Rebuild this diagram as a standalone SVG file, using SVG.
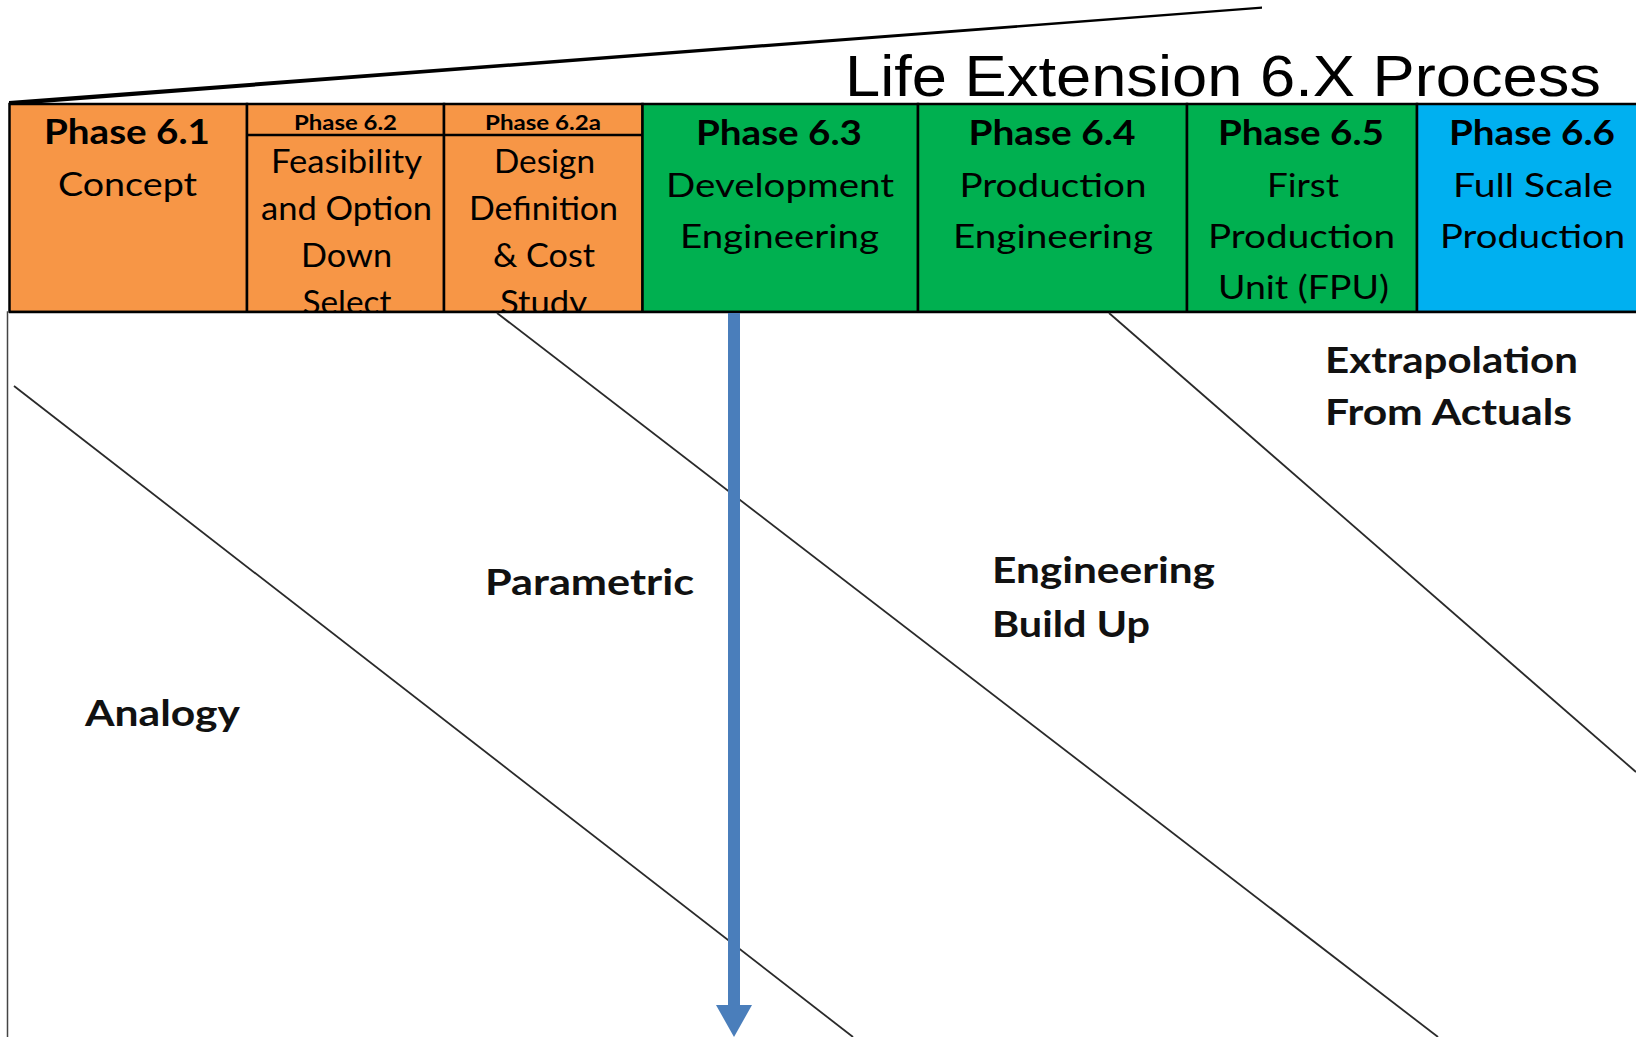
<svg xmlns="http://www.w3.org/2000/svg" width="1636" height="1037" viewBox="0 0 1636 1037">
<style>
.box{stroke:#000;stroke-width:2.5}
.or{fill:#f79646}.gr{fill:#00b050}.bl{fill:#00b0f0}
.h{font-family:Lato,"Open Sans","DejaVu Sans",sans-serif;font-weight:700;font-size:34px;fill:#000;text-anchor:middle}
.hs{font-family:Lato,"Open Sans","DejaVu Sans",sans-serif;font-weight:700;font-size:21px;fill:#000;text-anchor:middle}
.t{font-family:Lato,"Open Sans","DejaVu Sans",sans-serif;font-weight:400;font-size:32px;fill:#000;text-anchor:middle}
.m{font-family:Lato,"Open Sans","DejaVu Sans",sans-serif;font-weight:700;font-size:37px;fill:#111}
.title{font-family:"Liberation Sans",Arial,sans-serif;font-size:57px;fill:#000}
.div{stroke:#2a2a2a;stroke-width:1.8;fill:none}
</style>
<defs>
<marker id="ah" markerUnits="userSpaceOnUse" markerWidth="32" markerHeight="36" viewBox="0 0 32 36" refX="0" refY="18" orient="auto">
<path d="M0,0 L32,18 L0,36 z" fill="#4a7ebb"/>
</marker>
</defs>
<rect x="0" y="0" width="1636" height="1037" fill="#fff"/>
<g id="title">
<polygon points="9,101 1262,6.6 1262,8.8 9,105.5" fill="#000"/>
<text class="title" x="845" y="96" textLength="756" lengthAdjust="spacingAndGlyphs">Life Extension 6.X Process</text>
</g>
<g id="phase-6-1">
<rect class="box or" x="9.5" y="104" width="237.5" height="208"/>
<text class="h" x="127" y="144" textLength="166" lengthAdjust="spacingAndGlyphs">Phase 6.1</text>
<text class="t" x="127.5" y="196" textLength="139" lengthAdjust="spacingAndGlyphs">Concept</text>
</g>
<g id="phase-6-2">
<rect class="box or" x="247" y="104" width="197" height="208"/>
<line x1="247" y1="135" x2="444" y2="135" stroke="#000" stroke-width="2.5"/>
<text class="hs" x="345.5" y="130" textLength="103" lengthAdjust="spacingAndGlyphs">Phase 6.2</text>
<text class="t" x="346.5" y="173" textLength="151" lengthAdjust="spacingAndGlyphs">Feasibility</text>
<text class="t" x="346.5" y="220" textLength="171" lengthAdjust="spacingAndGlyphs">and Option</text>
<text class="t" x="346.5" y="267" textLength="91" lengthAdjust="spacingAndGlyphs">Down</text>
<text class="t" x="347" y="314" textLength="89" lengthAdjust="spacingAndGlyphs">Select</text>
</g>
<g id="phase-6-2a">
<rect class="box or" x="444" y="104" width="198.5" height="208"/>
<line x1="444" y1="135" x2="642.5" y2="135" stroke="#000" stroke-width="2.5"/>
<text class="hs" x="543" y="130" textLength="116" lengthAdjust="spacingAndGlyphs">Phase 6.2a</text>
<text class="t" x="544.5" y="173" textLength="101" lengthAdjust="spacingAndGlyphs">Design</text>
<text class="t" x="543.5" y="220" textLength="149" lengthAdjust="spacingAndGlyphs">Definition</text>
<text class="t" x="544" y="267" textLength="102" lengthAdjust="spacingAndGlyphs">&amp; Cost</text>
<text class="t" x="543.5" y="314" textLength="87" lengthAdjust="spacingAndGlyphs">Study</text>
</g>
<g id="phase-6-3">
<rect class="box gr" x="642.5" y="104" width="275.5" height="208"/>
<text class="h" x="779" y="145" textLength="166" lengthAdjust="spacingAndGlyphs">Phase 6.3</text>
<text class="t" x="780" y="197" textLength="228" lengthAdjust="spacingAndGlyphs">Development</text>
<text class="t" x="779.5" y="248" textLength="199" lengthAdjust="spacingAndGlyphs">Engineering</text>
</g>
<g id="phase-6-4">
<rect class="box gr" x="918" y="104" width="269" height="208"/>
<text class="h" x="1052" y="145" textLength="167" lengthAdjust="spacingAndGlyphs">Phase 6.4</text>
<text class="t" x="1053" y="197" textLength="187" lengthAdjust="spacingAndGlyphs">Production</text>
<text class="t" x="1053" y="248" textLength="200" lengthAdjust="spacingAndGlyphs">Engineering</text>
</g>
<g id="phase-6-5">
<rect class="box gr" x="1187" y="104" width="230" height="208"/>
<text class="h" x="1301" y="145" textLength="166" lengthAdjust="spacingAndGlyphs">Phase 6.5</text>
<text class="t" x="1303" y="197" textLength="72" lengthAdjust="spacingAndGlyphs">First</text>
<text class="t" x="1301.5" y="248" textLength="187" lengthAdjust="spacingAndGlyphs">Production</text>
<text class="t" x="1303.5" y="299" textLength="171" lengthAdjust="spacingAndGlyphs">Unit (FPU)</text>
</g>
<g id="phase-6-6">
<rect class="box bl" x="1417" y="104" width="240" height="208"/>
<text class="h" x="1532" y="145" textLength="166" lengthAdjust="spacingAndGlyphs">Phase 6.6</text>
<text class="t" x="1533" y="197" textLength="160" lengthAdjust="spacingAndGlyphs">Full Scale</text>
<text class="t" x="1532.5" y="248" textLength="185" lengthAdjust="spacingAndGlyphs">Production</text>
</g>
<g id="estimate-area">
<rect x="7.5" y="312" width="1640" height="740" fill="#fff" stroke="#444" stroke-width="1.5"/>
<line x1="9" y1="312" x2="1636" y2="312" stroke="#000" stroke-width="2.5"/>
</g>
<g id="dividers">
<line class="div" x1="14" y1="386" x2="853" y2="1037"/>
<line class="div" x1="497" y1="313" x2="1438" y2="1037"/>
<line class="div" x1="1109" y1="313" x2="1636" y2="772"/>
</g>
<g id="labels">
<text class="m" x="85" y="726" textLength="155" lengthAdjust="spacingAndGlyphs">Analogy</text>
<text class="m" x="485" y="595" textLength="209" lengthAdjust="spacingAndGlyphs">Parametric</text>
<text class="m" x="992" y="583" textLength="223" lengthAdjust="spacingAndGlyphs">Engineering</text>
<text class="m" x="992" y="637" textLength="158" lengthAdjust="spacingAndGlyphs">Build Up</text>
<text class="m" x="1325" y="373" textLength="253" lengthAdjust="spacingAndGlyphs">Extrapolation</text>
<text class="m" x="1325" y="425" textLength="247" lengthAdjust="spacingAndGlyphs">From Actuals</text>
</g>
<g id="connectors">
<line x1="734" y1="313" x2="734" y2="1005" stroke="#4a7ebb" stroke-width="12" marker-end="url(#ah)"/>
</g>
</svg>
